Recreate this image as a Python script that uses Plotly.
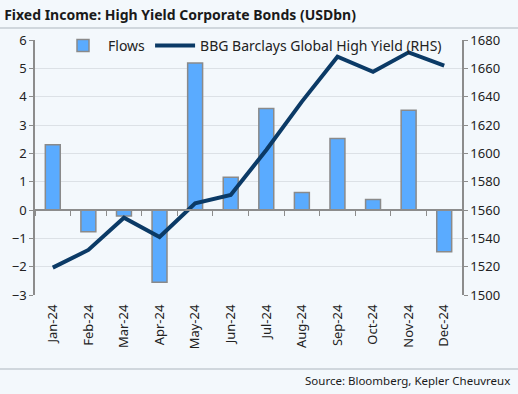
import plotly.graph_objects as go

months = ["Jan-24", "Feb-24", "Mar-24", "Apr-24", "May-24", "Jun-24",
          "Jul-24", "Aug-24", "Sep-24", "Oct-24", "Nov-24", "Dec-24"]
flows = [2.3, -0.77, -0.21, -2.55, 5.19, 1.16, 3.58, 0.62, 2.52, 0.37, 3.52, -1.47]
index_vals = [1519.3, 1531.8, 1554.6, 1540.9, 1564.7, 1570.6,
              1602.4, 1636.5, 1668.2, 1657.6, 1671.3, 1661.9]
left_ticks = [-3, -2, -1, 0, 1, 2, 3, 4, 5, 6]
right_ticks = [1500, 1520, 1540, 1560, 1580, 1600, 1620, 1640, 1660, 1680]

W, H = 518, 394
L, R, T, B = 35, 462, 40, 295
pw, ph = R - L, B - T

def px_x(x):
    return (x - L) / pw

def px_y(y):
    return (B - y) / ph

FONT = "Noto Sans"
bg = "#F3F8FC"
axis_gray = "#8C8C8C"

fig = go.Figure()
fig.add_trace(go.Bar(
    x=months, y=flows, name="Flows",
    marker=dict(color="#5AABFF", line=dict(color="#8A8A8A", width=1.5)),
    yaxis="y", xaxis="x",
))
fig.add_trace(go.Scatter(
    x=months, y=index_vals, name="BBG Barclays Global High Yield (RHS)",
    mode="lines", line=dict(color="#0B3A66", width=4),
    yaxis="y2", xaxis="x",
))
# invisible helper trace for zero-line tick axis
fig.add_trace(go.Scatter(
    x=months, y=[0] * len(months), mode="markers", marker=dict(opacity=0),
    showlegend=False, hoverinfo="skip", xaxis="x2", yaxis="y",
))

fig.update_layout(
    width=W, height=H,
    margin=dict(l=L, r=W - R, t=T, b=H - B),
    paper_bgcolor=bg, plot_bgcolor=bg,
    font=dict(family=FONT, size=13, color="#222222"),
    bargap=0.58,
    title=dict(text="<b>Fixed Income: High Yield Corporate Bonds (USDbn)</b>",
               x=0.008, xanchor="left", xref="container",
               y=1 - 15 / H, yanchor="middle", yref="container",
               font=dict(family=FONT, size=14, color="#1a1a1a")),
    xaxis=dict(type="category", categoryarray=months, range=[-0.5, 11.5],
               tickangle=-90, showline=False, showgrid=False, ticks="",
               zeroline=False, tickfont=dict(size=13), ticklabelstandoff=6),
    xaxis2=dict(type="category", categoryarray=months, range=[-0.5, 11.5],
                overlaying="x", anchor="free", position=1 / 3,
                showticklabels=False, ticks="outside", tickson="boundaries",
                ticklen=5, tickcolor=axis_gray, tickwidth=1,
                showline=True, linecolor=axis_gray, linewidth=1.5,
                showgrid=False, zeroline=False),
    yaxis=dict(range=[-3, 6], tickvals=left_ticks, showline=True,
               linecolor=axis_gray, linewidth=1.5, ticks="outside", ticklen=4,
               tickcolor=axis_gray, gridcolor="#DCE1E6", gridwidth=1,
               zeroline=False, tickfont=dict(size=13)),
    yaxis2=dict(range=[1500, 1680], tickvals=right_ticks, overlaying="y",
                side="right", showline=True, linecolor=axis_gray, linewidth=1.5,
                ticks="outside", ticklen=4, tickcolor=axis_gray,
                showgrid=False, zeroline=False, tickfont=dict(size=13)),
    legend=dict(orientation="h", x=px_x(58), xanchor="left", y=px_y(30),
                yanchor="top", bgcolor="rgba(0,0,0,0)", font=dict(size=14),
                traceorder="normal", itemwidth=40, tracegroupgap=0),
    shapes=[
        dict(type="line", xref="paper", yref="paper", x0=px_x(0), x1=px_x(W),
             y0=px_y(28), y1=px_y(28), line=dict(color="#C5CCD3", width=1.5)),
        dict(type="line", xref="paper", yref="paper", x0=px_x(0), x1=px_x(W),
             y0=px_y(369), y1=px_y(369), line=dict(color="#C5CCD3", width=1.5)),
    ],
    annotations=[
        dict(text="Source: Bloomberg, Kepler Cheuvreux", xref="paper", yref="paper",
             x=px_x(512), y=px_y(380), xanchor="right", yanchor="middle",
             showarrow=False, font=dict(size=11.5, color="#1a1a1a")),
    ],
)

fig.write_html("out.html",
               config={"displayModeBar": False},
               post_script="document.body.style.margin='0';document.body.style.padding='0';")
